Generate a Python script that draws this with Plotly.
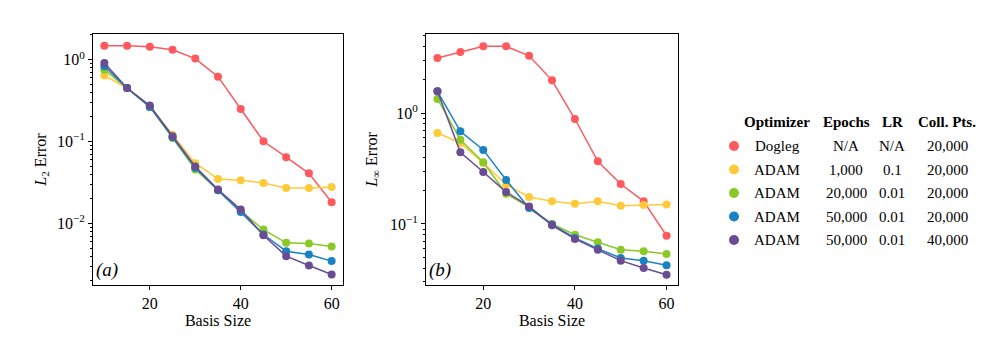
import plotly.graph_objects as go

# basis sizes (x)
basis = [10, 15, 20, 25, 30, 35, 40, 45, 50, 55, 60]

# L2 error, panel (a)
l2_dogleg = [1.48, 1.48, 1.44, 1.32, 1.03, 0.62, 0.25, 0.101, 0.0645, 0.041, 0.0182]
l2_adam_1k = [0.64, 0.45, 0.27, 0.12, 0.0545, 0.035, 0.0338, 0.0313, 0.0272, 0.0272, 0.028]
l2_adam_20k = [0.755, 0.45, 0.265, 0.111, 0.0456, 0.0255, 0.0142, 0.00845, 0.00582, 0.0057, 0.00525]
l2_adam_50k = [0.83, 0.45, 0.265, 0.113, 0.0478, 0.0255, 0.0138, 0.00735, 0.0046, 0.0042, 0.00348]
l2_adam_50k_40k = [0.91, 0.45, 0.275, 0.116, 0.0496, 0.026, 0.0148, 0.0072, 0.0040, 0.00308, 0.00239]

# L-infinity error, panel (b)
linf_dogleg = [3.13, 3.55, 3.99, 3.99, 3.28, 1.97, 0.883, 0.367, 0.229, 0.16, 0.0785]
linf_adam_1k = [0.66, 0.537, 0.355, 0.226, 0.175, 0.16, 0.152, 0.16, 0.146, 0.148, 0.15]
linf_adam_20k = [1.34, 0.575, 0.36, 0.187, 0.142, 0.1, 0.08, 0.0684, 0.0587, 0.0567, 0.0537]
linf_adam_50k = [1.57, 0.684, 0.465, 0.249, 0.139, 0.099, 0.0748, 0.06, 0.0494, 0.0467, 0.0425]
linf_adam_50k_40k = [1.57, 0.443, 0.294, 0.194, 0.144, 0.0973, 0.0733, 0.0587, 0.0467, 0.0401, 0.0349]

# table legend
optimizers = ['Dogleg', 'ADAM', 'ADAM', 'ADAM', 'ADAM']
epochs = ['N/A', '1,000', '20,000', '50,000', '50,000']
learning_rates = ['N/A', '0.1', '0.01', '0.01', '0.01']
coll_pts = ['20,000', '20,000', '20,000', '20,000', '40,000']
headers = ['Optimizer', 'Epochs', 'LR', 'Coll. Pts.']

colors = ['#ff595e', '#ffca3a', '#8ac926', '#1982c4', '#6a4c93']

FONT = 'Liberation Serif'
W, H = 997, 346

l2_series = [l2_dogleg, l2_adam_1k, l2_adam_20k, l2_adam_50k, l2_adam_50k_40k]
linf_series = [linf_dogleg, linf_adam_1k, linf_adam_20k, linf_adam_50k, linf_adam_50k_40k]

fig = go.Figure()

for axis_id, series in (('', l2_series), ('2', linf_series)):
    for ys, c in zip(series, colors):
        fig.add_trace(go.Scatter(
            x=basis, y=ys, mode='lines+markers',
            line=dict(color=c, width=1.5),
            marker=dict(color=c, size=8),
            xaxis='x' + axis_id, yaxis='y' + axis_id,
            showlegend=False, hoverinfo='skip',
        ))


def minor_vals(lo, hi):
    vals = []
    for e in range(lo, hi + 1):
        for m in range(2, 10):
            vals.append(m * 10.0 ** e)
    return vals


def px_x(p):
    return p / W


def px_y(p):
    return 1 - p / H


common_x = dict(
    type='linear', range=[7.5, 62.5], tickvals=[20, 40, 60],
    ticks='outside', ticklen=4, tickwidth=1, tickcolor='black',
    showline=True, linecolor='black', linewidth=1, mirror=True,
    showgrid=False, zeroline=False,
    tickfont=dict(family=FONT, size=16, color='black'),
    title=dict(text='Basis Size', font=dict(family=FONT, size=16, color='black'), standoff=2),
)
common_y = dict(
    type='log', ticks='outside', ticklen=4, tickwidth=1, tickcolor='black',
    showline=True, linecolor='black', linewidth=1, mirror=True,
    showgrid=False, zeroline=False,
    tickfont=dict(family=FONT, size=16, color='black'),
)

fig.update_layout(
    width=W, height=H,
    margin=dict(l=0, r=0, t=0, b=0),
    paper_bgcolor='white', plot_bgcolor='white',
    font=dict(family=FONT, size=16, color='black'),
    xaxis=dict(common_x, domain=[px_x(85), px_x(335)], anchor='y'),
    yaxis=dict(
        common_y, domain=[px_y(277), px_y(26)], anchor='x', range=[-2.75, 0.313],
        tickvals=[0.01, 0.1, 1], ticktext=['10<sup>−2</sup>', '10<sup>−1</sup>', '10<sup>0</sup>'],
        minor=dict(ticks='outside', ticklen=2, tickcolor='black', tickvals=minor_vals(-3, 0), showgrid=False),
        title=dict(text='<i>L</i><sub>2</sub> Error', font=dict(family=FONT, size=16, color='black'), standoff=6),
    ),
    xaxis2=dict(common_x, domain=[px_x(418), px_x(670)], anchor='y2'),
    yaxis2=dict(
        common_y, domain=[px_y(277), px_y(26)], anchor='x2', range=[-1.55, 0.712],
        tickvals=[0.1, 1], ticktext=['10<sup>−1</sup>', '10<sup>0</sup>'],
        minor=dict(ticks='outside', ticklen=2, tickcolor='black', tickvals=minor_vals(-2, 0), showgrid=False),
        title=dict(text='<i>L</i><sub>∞</sub> Error', font=dict(family=FONT, size=16, color='black'), standoff=8),
    ),
    # invisible axes for the table legend markers
    xaxis3=dict(domain=[px_x(700), px_x(990)], range=[0, 1], visible=False, anchor='y3'),
    yaxis3=dict(domain=[px_y(300), px_y(90)], range=[px_y(300) * H, px_y(90) * H], visible=False, anchor='x3'),
)

# panel labels
for xref, yref, lbl in (('x domain', 'y domain', '(a)'), ('x2 domain', 'y2 domain', '(b)')):
    fig.add_annotation(
        x=0.005, y=0.06, xref=xref, yref=yref, text='<i>' + lbl + '</i>',
        showarrow=False, xanchor='left', yanchor='middle',
        font=dict(family=FONT, size=19, color='black'),
    )

# table legend
col_centers = [769, 838, 884, 939]
header_y = 114
row_ys = [138, 161.5, 185, 208.5, 232]

for cx, h in zip(col_centers, headers):
    fig.add_annotation(
        x=px_x(cx), y=px_y(header_y), xref='paper', yref='paper',
        text='<b>' + h + '</b>', showarrow=False, xanchor='center', yanchor='middle',
        font=dict(family=FONT, size=15, color='black'),
    )

for i, row in enumerate(zip(optimizers, epochs, learning_rates, coll_pts)):
    for cx, val in zip(col_centers, row):
        fig.add_annotation(
            x=px_x(cx), y=px_y(row_ys[i]), xref='paper', yref='paper',
            text=val, showarrow=False, xanchor='center', yanchor='middle',
            font=dict(family=FONT, size=15, color='black'),
        )

x3_lo, x3_hi = 700, 990
fig.add_trace(go.Scatter(
    x=[(726 - x3_lo) / (x3_hi - x3_lo)] * len(colors),
    y=[H - ry for ry in row_ys],
    mode='markers', marker=dict(color=colors, size=10),
    xaxis='x3', yaxis='y3', showlegend=False, hoverinfo='skip',
))

fig.write_html('out.html')
